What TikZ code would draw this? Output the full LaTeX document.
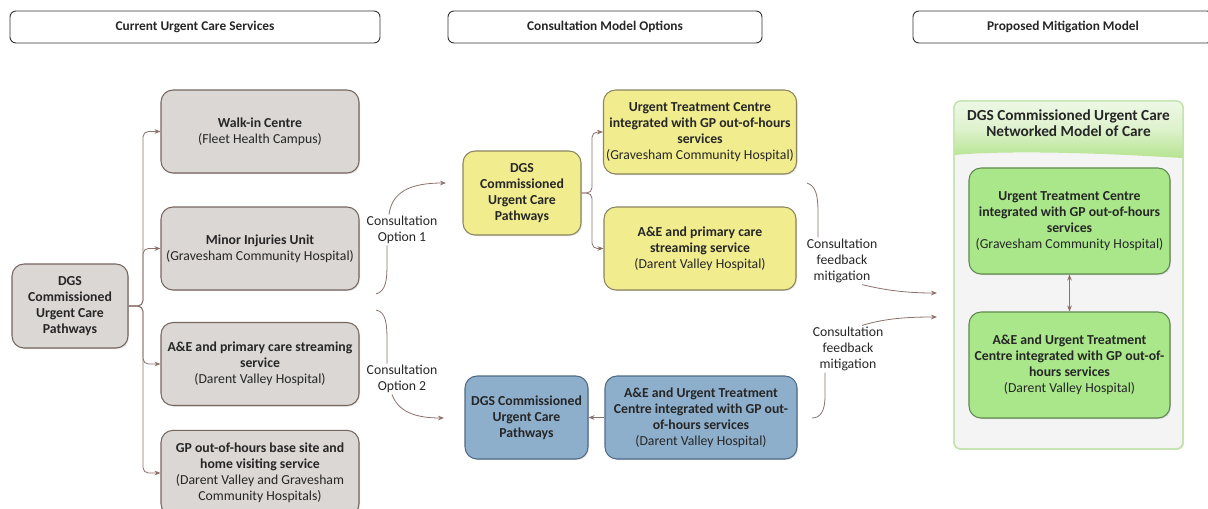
\documentclass[tikz,border=0pt]{standalone}
\usepackage{fontspec}
\setmainfont{Carlito}
\usetikzlibrary{arrows.meta,shadows,calc}
\definecolor{grayfill}{HTML}{DAD7D4}
\definecolor{grayline}{HTML}{76665F}
\definecolor{connc}{HTML}{8C706A}
\definecolor{yelfill}{HTML}{F1EC8E}
\definecolor{yelline}{HTML}{8A8560}
\definecolor{bluefill}{HTML}{8EAFCB}
\definecolor{blueline}{HTML}{4F6B86}
\definecolor{grnfill}{HTML}{AAE78B}
\definecolor{grnline}{HTML}{5E8A4E}
\definecolor{panelfill}{HTML}{F4F4F4}
\definecolor{panelline}{HTML}{C2E2AC}
\definecolor{paneltop}{HTML}{EEF8E6}
\definecolor{panelbot}{HTML}{B6E490}
\definecolor{txt}{HTML}{262626}
\begin{document}
\begin{tikzpicture}[x=0.75pt,y=-0.75pt,
  every node/.style={text=txt},
  hdr/.style={draw=black!80, line width=0.7pt, rounded corners=4.5pt, minimum height=24pt,
    font=\fontsize{10}{12}\selectfont\bfseries},
  box/.style={rounded corners=9pt, line width=0.8pt, align=center, inner sep=2pt,
    font=\fontsize{10.3}{12}\selectfont,
    drop shadow={opacity=0.25, shadow xshift=0.8pt, shadow yshift=-0.8pt}},
  graybox/.style={box, draw=grayline, fill=grayfill},
  yelbox/.style={box, draw=yelline, fill=yelfill},
  bluebox/.style={box, draw=blueline, fill=bluefill},
  grnbox/.style={box, draw=grnline, fill=grnfill},
  lbl/.style={align=center, inner sep=1pt, font=\fontsize{10.3}{12}\selectfont},
  conn/.style={draw=connc, line width=0.6pt},
  arr/.style={conn, -{Stealth[length=4.5pt,width=3.5pt]}},
  darr/.style={conn, {Stealth[length=4.5pt,width=3.5pt]}-{Stealth[length=4.5pt,width=3.5pt]}},
]
\useasboundingbox (0,0) rectangle (1208,508);

% headers
\node[hdr, minimum width=277.5pt] (h1) at (195,27) {Current Urgent Care Services};
\node[hdr, minimum width=235.5pt] (h2) at (605,27) {Consultation Model Options};
\node[hdr, minimum width=225pt] (h3) at (1063,27) {Proposed Mitigation Model};

% left column
\node[graybox, minimum width=87pt, minimum height=63pt] (root) at (70,306)
  {\textbf{DGS}\\\textbf{Commissioned}\\\textbf{Urgent Care}\\\textbf{Pathways}};
\node[graybox, minimum width=148.5pt, minimum height=62.25pt] (walk) at (260,131.5)
  {\textbf{Walk-in Centre}\\(Fleet Health Campus)};
\node[graybox, minimum width=148.5pt, minimum height=62.25pt] (miu) at (260,248.5)
  {\textbf{Minor Injuries Unit}\\(Gravesham Community Hospital)};
\node[graybox, minimum width=148.5pt, minimum height=62.25pt] (ae) at (260,364)
  {\textbf{A\&E and primary care streaming}\\\textbf{service}\\(Darent Valley Hospital)};
\node[graybox, minimum width=148.5pt, minimum height=64pt] (gp) at (260,473)
  {\textbf{GP out-of-hours base site and}\\\textbf{home visiting service}\\(Darent Valley and Gravesham\\Community Hospitals)};

\coordinate (ltrunk) at (143,306);
\foreach \t in {walk,miu,ae,gp}
  \draw[arr, rounded corners=4pt] (root.east) -- (ltrunk) |- (\t.west);

% option 1 (yellow)
\node[yelbox, minimum width=88.5pt, minimum height=63pt] (ydgs) at (522,193)
  {\textbf{DGS}\\\textbf{Commissioned}\\\textbf{Urgent Care}\\\textbf{Pathways}};
\node[yelbox, minimum width=144pt, minimum height=63pt] (yutc) at (700,132)
  {\textbf{Urgent Treatment Centre}\\\textbf{integrated with GP out-of-hours}\\\textbf{services}\\(Gravesham Community Hospital)};
\node[yelbox, minimum width=144pt, minimum height=62.25pt] (yae) at (700,248.5)
  {\textbf{A\&E and primary care}\\\textbf{streaming service}\\(Darent Valley Hospital)};
\coordinate (ytrunk) at (592,193);
\foreach \t in {yutc,yae}
  \draw[arr, rounded corners=4pt] (ydgs.east) -- (ytrunk) |- (\t.west);

% option 2 (blue)
\node[bluebox, minimum width=92.25pt, minimum height=62.25pt] (bdgs) at (526.5,417.5)
  {\textbf{DGS Commissioned}\\\textbf{Urgent Care}\\\textbf{Pathways}};
\node[bluebox, minimum width=144pt, minimum height=62.25pt] (bae) at (701,417.5)
  {\textbf{A\&E and Urgent Treatment}\\\textbf{Centre integrated with GP out-}\\\textbf{of-hours services}\\(Darent Valley Hospital)};
\draw[arr] (bae.west) -- (bdgs.east);

% consultation option curves
\node[lbl] (lab1) at (402,230) {Consultation\\Option 1};
\coordinate (o1s) at (376,294);
\coordinate (o1e) at (446,183);
\draw[conn] (o1s) .. controls (386,291) and (387,280) .. (387,264) -- ($(lab1.south)+(-15,0)$);
\draw[arr] ($(lab1.north)+(-13,0)$) .. controls (392,192) and (410,183) .. (o1e);

\node[lbl] (lab2) at (402,379) {Consultation\\Option 2};
\coordinate (o2s) at (376,310);
\coordinate (o2e) at (444,418);
\draw[conn] (o2s) .. controls (386,312) and (387,324) .. (387,340) -- ($(lab2.north)+(-15,0)$);
\draw[arr] ($(lab2.south)+(-10,0)$) .. controls (398,411) and (414,418) .. (o2e);

% feedback mitigation curves
\node[lbl] (lab3) at (842,261) {Consultation\\feedback\\mitigation};
\coordinate (f1s) at (807,183);
\coordinate (f1e) at (937,293);
\draw[conn] (f1s) .. controls (816,186) and (818,196) .. (818,212) -- ($(lab3.north)+(-24,0)$);
\draw[arr] ($(lab3.south)+(20,0)$) .. controls (888,291) and (910,293) .. (f1e);

\node[lbl] (lab4) at (848,349) {Consultation\\feedback\\mitigation};
\coordinate (f2s) at (812,418);
\coordinate (f2e) at (937,317);
\draw[arr] ($(lab4.north)+(14,0)$) .. controls (886,318) and (910,317) .. (f2e);
\draw[conn] ($(lab4.south)+(-23,0)$) -- (825,396) .. controls (825,412) and (820,418) .. (f2s);

% proposed panel
\draw[draw=panelline, line width=1pt, fill=panelfill, rounded corners=5pt,
  drop shadow={opacity=0.15, shadow xshift=0.8pt, shadow yshift=-0.8pt}]
  (954,101) rectangle (1183,449);
\begin{scope}
  \clip[rounded corners=5pt] (954,101) rectangle (1183,449);
  \shade[top color=paneltop, bottom color=panelbot, middle color=paneltop!70!panelbot]
    (954,101) -- (1183,101) -- (1183,158) .. controls (1100,153) and (1010,150) .. (954,155) -- cycle;
\end{scope}
\draw[draw=panelline, line width=1pt, rounded corners=5pt] (954,101) rectangle (1183,449);
\node[lbl, font=\fontsize{11.5}{12}\selectfont\bfseries] (ptitle) at (1068.5,123)
  {DGS Commissioned Urgent Care\\Networked Model of Care};

\node[grnbox, minimum width=150.75pt, minimum height=79.5pt] (g1) at (1069.5,221)
  {\textbf{Urgent Treatment Centre}\\\textbf{integrated with GP out-of-hours}\\\textbf{services}\\(Gravesham Community Hospital)};
\node[grnbox, minimum width=150.75pt, minimum height=79.5pt] (g2) at (1069.5,365)
  {\textbf{A\&E and Urgent Treatment}\\\textbf{Centre integrated with GP out-of-}\\\textbf{hours services}\\(Darent Valley Hospital)};
\draw[darr] (g1.south) -- (g2.north);
\end{tikzpicture}
\end{document}
